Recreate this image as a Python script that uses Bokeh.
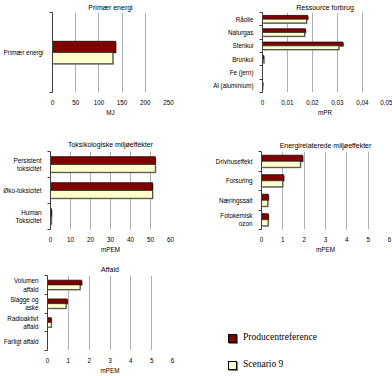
from bokeh.plotting import figure
from bokeh.layouts import column, row
from bokeh.models import FixedTicker, CustomJSTickFormatter, Range1d, Div
from bokeh.embed import file_html
from bokeh.resources import INLINE

# ---------------- data ----------------
series_names = ["Producentreference", "Scenario 9"]

primary_title = "Primær energi"
primary_cats = ["Primær energi"]
primary_prod = [136.0]
primary_scen = [130.0]
primary_ticks = [0, 50, 100, 150, 200, 250]
primary_unit = "MJ"

res_title = "Ressource forbrug"
res_cats = ["Råolie", "Naturgas", "Stenkul", "Brunkul", "Fe (jern)", "Al (aluminium)"]
res_prod = [0.0181, 0.0172, 0.0322, 0.0005, 0.0, 0.0002]
res_scen = [0.0176, 0.0168, 0.0305, 0.0005, 0.0, 0.0001]
res_ticks = [0, 0.01, 0.02, 0.03, 0.04, 0.05]
res_unit = "mPR"

tox_title = "Toksikologiske miljøeffekter"
tox_cats = ["Persistent\ntoksicitet", "Øko-toksicitet", "Human\nToksicitet"]
tox_prod = [52.4, 51.0, 0.5]
tox_scen = [52.4, 51.0, 0.4]
tox_ticks = [0, 10, 20, 30, 40, 50, 60]
tox_unit = "mPEM"

energy_title = "Energirelaterede miljøeffekter"
energy_cats = ["Drivhuseffekt", "Forsuring", "Næringssalt", "Fotokemisk\nozon"]
energy_prod = [1.93, 1.04, 0.32, 0.32]
energy_scen = [1.82, 0.99, 0.29, 0.31]
energy_ticks = [0, 1, 2, 3, 4, 5, 6]
energy_unit = "mPEM"

waste_title = "Affald"
waste_cats = ["Volumen\naffald", "Slagge og\naske", "Radioaktivt\naffald", "Farligt affald"]
waste_prod = [1.64, 0.95, 0.18, 0.0]
waste_scen = [1.56, 0.89, 0.18, 0.0]
waste_ticks = [0, 1, 2, 3, 4, 5, 6]
waste_unit = "mPEM"

# ---------------- style ----------------
PROD_FILL = "#800000"
SCEN_FILL = "#FFFFCC"
SHADOW = "#8a8a8a"
GRID = "#9a9a9a"
AXIS = "#404040"
FONT = "Liberation Sans"
TICK_FS = "6.3px"
TITLE_FS = "7px"


def panel(title, cats, prod, scen, ticks, unit, width, height, bl, br, bt, bb,
          bar_frac, title_standoff, comma=False):
    n = len(cats)
    xmax = ticks[-1]
    p = figure(width=width, height=height, output_backend="svg", toolbar_location=None,
               x_range=Range1d(0, xmax), y_range=Range1d(0, n),
               min_border_left=bl, min_border_right=br,
               min_border_top=bt, min_border_bottom=bb,
               title=title)
    p.outline_line_color = None
    p.background_fill_color = "white"
    p.border_fill_color = "white"

    fw = width - bl - br
    fh = height - bt - bb
    dx = xmax / fw
    dy = n / fh

    centers = [n - i - 0.5 for i in range(n)]
    h = bar_frac
    prod_y = [c + h / 2 for c in centers]
    scen_y = [c - h / 2 for c in centers]

    # shadows + bars
    p.hbar(y=[y - dy for y in prod_y], left=dx, right=[v + dx for v in prod], height=h,
           fill_color=SHADOW, line_color=None)
    p.hbar(y=prod_y, left=0, right=prod, height=h, fill_color=PROD_FILL,
           line_color="#200000", line_width=0.8)
    p.hbar(y=[y - dy for y in scen_y], left=dx, right=[v + dx for v in scen], height=h,
           fill_color=SHADOW, line_color=None)
    p.hbar(y=scen_y, left=0, right=scen, height=h, fill_color=SCEN_FILL,
           line_color="#303030", line_width=0.8)

    # title
    p.title.text_font = FONT
    p.title.text_font_size = TITLE_FS
    p.title.text_font_style = "normal"
    p.title.text_color = "black"
    p.title.align = "center"
    p.title.standoff = title_standoff

    # x axis
    xa = p.xaxis[0]
    xa.ticker = FixedTicker(ticks=ticks, minor_ticks=[])
    if comma:
        xa.formatter = CustomJSTickFormatter(
            code="return tick === 0 ? '0' : tick.toFixed(2).replace('.', ',');")
    xa.axis_line_color = None
    xa.major_tick_line_color = None
    xa.minor_tick_line_color = None
    xa.major_label_text_font = FONT
    xa.major_label_text_font_size = TICK_FS
    xa.major_label_text_color = "black"
    xa.major_label_standoff = 1
    xa.axis_label = unit
    xa.axis_label_text_font = FONT
    xa.axis_label_text_font_size = TICK_FS
    xa.axis_label_text_font_style = "normal"
    xa.axis_label_text_color = "black"
    xa.axis_label_standoff = 1

    p.xgrid.ticker = FixedTicker(ticks=ticks[1:], minor_ticks=[])
    p.xgrid.grid_line_color = GRID
    p.xgrid.grid_line_width = 0.8
    p.ygrid.grid_line_color = None

    # y axis
    ya = p.yaxis[0]
    ya.ticker = FixedTicker(ticks=centers, minor_ticks=list(range(n + 1)))
    ya.formatter = CustomJSTickFormatter(args=dict(labels=cats, n=n),
                                         code="return labels[Math.round(n - tick - 0.5)];")
    ya.axis_line_color = AXIS
    ya.axis_line_width = 1
    ya.major_tick_line_color = None
    ya.minor_tick_line_color = AXIS
    ya.minor_tick_in = 0
    ya.minor_tick_out = 3
    ya.major_label_text_font = FONT
    ya.major_label_text_font_size = TICK_FS
    ya.major_label_text_color = "black"
    ya.major_label_standoff = 3
    return p


p1 = panel(primary_title, primary_cats, primary_prod, primary_scen, primary_ticks,
           primary_unit, 196, 120, 47, 28, 11, 28, 0.14, 3)
p2 = panel(res_title, res_cats, res_prod, res_scen, res_ticks, res_unit,
           196, 120, 66, 5, 11, 28, 0.28, 3, comma=True)
p3 = panel(tox_title, tox_cats, tox_prod, tox_scen, tox_ticks, tox_unit,
           196, 135, 44, 26, 31, 24, 0.30, 8)
p4 = panel(energy_title, energy_cats, energy_prod, energy_scen, energy_ticks,
           energy_unit, 196, 135, 65, 3, 31, 24, 0.31, 5)
p5 = panel(waste_title, waste_cats, waste_prod, waste_scen, waste_ticks,
           waste_unit, 196, 121, 41, 24, 20, 21, 0.25, 5)

# legend (HTML, real text)
key_colors = [PROD_FILL, SCEN_FILL]
key_tops = [79, 106]
text_tops = [77, 104]
parts = []
for name, col, kt, tt in zip(series_names, key_colors, key_tops, text_tops):
    parts.append(
        f'<div style="position:absolute;left:32px;top:{kt}px;width:9px;height:9px;'
        f'background:{col};border:1px solid #000;box-shadow:1px 1px 0 #808080;"></div>'
        f'<div style="position:absolute;left:47px;top:{tt}px;line-height:11px;'
        f'white-space:nowrap;color:#000;">{name}</div>')
legend_html = ('<div style="position:relative;width:196px;height:121px;'
               'font-family:\'Liberation Serif\';font-size:9.5px;">' + "".join(parts) + '</div>')
lg = Div(text=legend_html, width=196, height=121, margin=0)

layout = column(row(p1, p2), row(p3, p4), row(p5, lg))

open("out.html", "w").write(file_html(layout, INLINE))
